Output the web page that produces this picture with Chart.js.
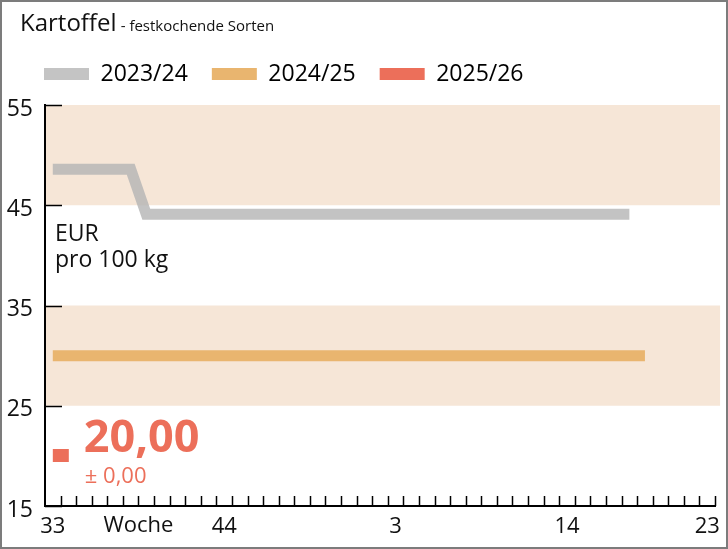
<!DOCTYPE html>
<html>
<head>
<meta charset="utf-8">
<script src="https://cdn.jsdelivr.net/npm/chart.js@4.4.1/dist/chart.umd.min.js"></script>
<style>
  html, body { margin: 0; padding: 0; background: #fff; }
  #wrap { position: relative; width: 728px; height: 549px; }
  #frame { position: absolute; left: 0; top: 0; width: 728px; height: 549px; box-sizing: border-box; border: 2px solid #7c7c7c; pointer-events: none; }
  #title { position: absolute; left: 20px; top: 5px; font-family: 'Open Sans', sans-serif; color: #111; white-space: nowrap; }
  #title .main { font-size: 24px; }
  #title .sub { font-size: 15px; }
  canvas { position: absolute; left: 0; top: 0; }
</style>
</head>
<body>
<div id="wrap">
  <canvas id="chart" width="728" height="549"></canvas>
  <div id="title"><span class="main">Kartoffel</span> <span class="sub">- festkochende Sorten</span></div>
  <div id="frame"></div>
</div>
<script>
// Kalenderwochen 33/2025 bis 23/2026
const weeks = ['33','34','35','36','37','38','39','40','41','42','43','44','45','46','47','48','49','50','51','52',
               '1','2','3','4','5','6','7','8','9','10','11','12','13','14','15','16','17','18','19','20','21','22','23'];
const shownWeeks = ['33', '44', '3', '14', '23'];
const axisTitle = 'Woche';

const seasons = ['2023/24', '2024/25', '2025/26'];

const prices2023 = [48.6, 48.6, 48.6, 48.6, 48.6, 48.6,
  44.1, 44.1, 44.1, 44.1, 44.1, 44.1, 44.1, 44.1, 44.1, 44.1, 44.1, 44.1, 44.1, 44.1, 44.1, 44.1,
  44.1, 44.1, 44.1, 44.1, 44.1, 44.1, 44.1, 44.1, 44.1, 44.1, 44.1, 44.1, 44.1, 44.1, 44.1, 44.1,
  null, null, null, null, null];
const prices2024 = [30, 30, 30, 30, 30, 30, 30, 30, 30, 30, 30, 30, 30, 30, 30, 30, 30, 30, 30, 30,
  30, 30, 30, 30, 30, 30, 30, 30, 30, 30, 30, 30, 30, 30, 30, 30, 30, 30, 30,
  null, null, null, null];
const prices2025 = [20];
const change2025 = [0];

const yTicks = [15, 25, 35, 45, 55];
const bands = [[45, 55], [25, 35]];

const colors = {
    gray: 'rgba(180, 180, 180, 0.8)',
    grayLegend: '#c4c4c4',
    orange: '#e9b56f',
    red: '#ec6f5a',
    band: '#f6e6d7',
    text: '#111111'
};

Chart.defaults.font.family = "'Open Sans', sans-serif";
Chart.defaults.color = colors.text;

// red marker for the current season, drawn right of the week centre
const marker = document.createElement('canvas');
marker.width = 34;
marker.height = 13;
const mctx = marker.getContext('2d');
mctx.fillStyle = colors.red;
mctx.fillRect(17, 0, 16, 13);

const fmt = v => v.toFixed(2).replace('.', ',');

const decorPlugin = {
    id: 'decor',
    beforeLayout(chart) {
        const lg = chart.legend;
        if (lg && !lg._fixed) {
            const fit = lg.fit.bind(lg);
            lg.fit = function () { fit(); this.height = 66.5; };
            lg._fixed = true;
        }
    },
    afterLayout(chart) {
        // legend starts further right than the y axis labels
        chart.legend.left += 20;
        chart.legend.right += 20;
    },
    beforeDatasetsDraw(chart) {
        const { ctx, chartArea, scales: { y } } = chart;
        ctx.save();
        ctx.fillStyle = colors.band;
        bands.forEach(([lo, hi]) => {
            const top = y.getPixelForValue(hi);
            const bottom = y.getPixelForValue(lo);
            ctx.fillRect(chartArea.left + 1, top, chartArea.right + 4 - chartArea.left, bottom - top);
        });
        ctx.restore();
    },
    afterDraw(chart) {
        const { ctx, chartArea, scales: { x, y } } = chart;
        ctx.save();
        ctx.strokeStyle = '#000';
        ctx.lineWidth = 1.5;
        ctx.beginPath();
        y.ticks.forEach(t => {
            const py = Math.round(y.getPixelForValue(t.value)) + 0.5;
            ctx.moveTo(chartArea.left, py);
            ctx.lineTo(chartArea.left + 17, py);
        });
        for (let i = 0; i < weeks.length; i++) {
            const px = Math.round(x.getPixelForValue(i + 0.5)) + 0.5;
            ctx.moveTo(px, chartArea.bottom);
            ctx.lineTo(px, chartArea.bottom - 10);
        }
        ctx.stroke();

        ctx.fillStyle = colors.text;
        ctx.font = "22px 'Open Sans', sans-serif";
        ctx.textAlign = 'center';
        ctx.textBaseline = 'top';
        ctx.fillText(axisTitle, x.getPixelForValue(5.5), chartArea.bottom + 9);

        // unit
        ctx.textAlign = 'left';
        ctx.textBaseline = 'alphabetic';
        ctx.font = "23px 'Open Sans', sans-serif";
        ctx.fillText('EUR', chartArea.left + 10, chartArea.top + 136);
        ctx.fillText('pro 100 kg', chartArea.left + 10, chartArea.top + 162);

        // current value
        const pt = chart.getDatasetMeta(2).data[0];
        ctx.fillStyle = colors.red;
        ctx.font = "bold 45px 'Open Sans', sans-serif";
        ctx.fillText(fmt(prices2025[0]), pt.x + 31, pt.y - 4);
        ctx.font = "22px 'Open Sans', sans-serif";
        ctx.fillText('\u00b1 ' + fmt(change2025[0]), pt.x + 32, pt.y + 27);
        ctx.restore();
    }
};

const lineStyle = {
    borderWidth: 11,
    pointRadius: 0,
    tension: 0,
    borderCapStyle: 'butt',
    borderJoinStyle: 'miter',
    spanGaps: false
};

new Chart(document.getElementById('chart'), {
    type: 'line',
    data: {
        labels: weeks,
        datasets: [
            { label: seasons[0], data: prices2023, borderColor: colors.gray, backgroundColor: colors.grayLegend, ...lineStyle },
            { label: seasons[1], data: prices2024, borderColor: colors.orange, backgroundColor: colors.orange, ...lineStyle },
            {
                label: seasons[2], data: prices2025, borderColor: colors.red, backgroundColor: colors.red,
                showLine: false, pointStyle: marker, pointRadius: 8
            }
        ]
    },
    options: {
        responsive: false,
        animation: false,
        devicePixelRatio: 1,
        layout: { padding: { left: 0, right: 12, top: 38.5, bottom: 0 } },
        plugins: {
            title: { display: false },
            tooltip: { enabled: false },
            legend: {
                position: 'top',
                align: 'start',
                labels: {
                    boxWidth: 45,
                    boxHeight: 12,
                    padding: 24,
                    color: colors.text,
                    font: { size: 23 },
                    generateLabels(chart) {
                        return chart.data.datasets.map((ds, i) => ({
                            text: ds.label,
                            fillStyle: ds.backgroundColor,
                            strokeStyle: ds.backgroundColor,
                            lineWidth: 0,
                            hidden: false,
                            datasetIndex: i
                        }));
                    }
                }
            }
        },
        scales: {
            x: {
                type: 'category',
                offset: true,
                grid: { display: true, offset: true, drawOnChartArea: false, drawTicks: false },
                border: { display: true, color: '#000', width: 2 },
                afterFit(scale) { scale.height = 43; },
                ticks: {
                    autoSkip: false,
                    maxRotation: 0,
                    padding: 8,
                    color: colors.text,
                    font: { size: 22 },
                    callback(value) {
                        const w = weeks[value];
                        return shownWeeks.includes(w) ? w : '';
                    }
                }
            },
            y: {
                min: yTicks[0],
                max: yTicks[yTicks.length - 1],
                grid: { display: true, drawOnChartArea: false, drawTicks: false },
                border: { display: true, color: '#000', width: 2 },
                afterFit(scale) { scale.width = 45; },
                afterBuildTicks(scale) { scale.ticks = yTicks.map(v => ({ value: v })); },
                ticks: {
                    padding: 12,
                    labelOffset: 4,
                    color: colors.text,
                    font: { size: 23 }
                }
            }
        }
    },
    plugins: [decorPlugin]
});
</script>
</body>
</html>
